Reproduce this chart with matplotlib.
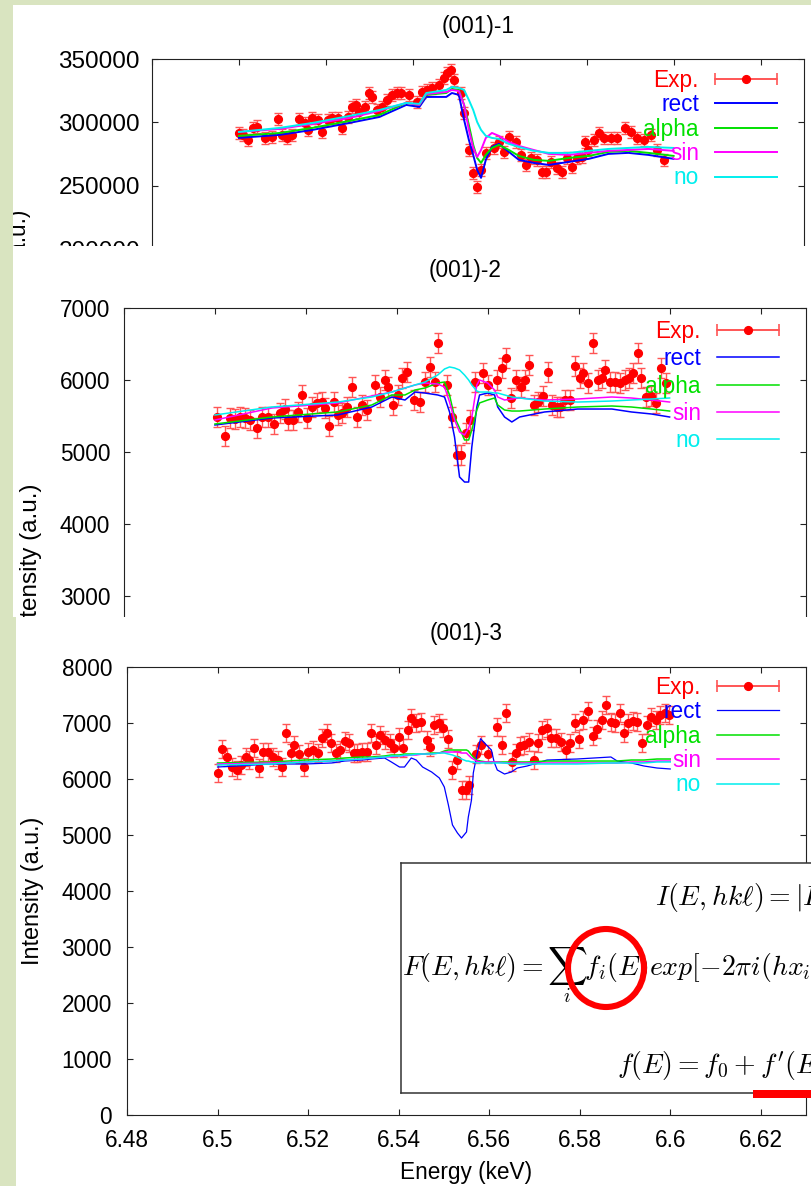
import numpy as np
import matplotlib
matplotlib.use('Agg')
import matplotlib.pyplot as plt
from matplotlib.patches import Rectangle, Ellipse
from matplotlib.lines import Line2D
from matplotlib.collections import LineCollection
from matplotlib.container import ErrorbarContainer
from matplotlib.legend_handler import HandlerErrorbar
from matplotlib.ticker import FuncFormatter
from matplotlib.transforms import Bbox, TransformedBbox

plt.rcParams['font.family'] = ['Liberation Sans', 'DejaVu Sans']
plt.rcParams['mathtext.fontset'] = 'cm'

# ---------------- data (001)-1 ----------------
e1_exp = [6.5000, 6.5009, 6.5020, 6.5032, 6.5041, 6.5059, 6.5075, 6.5089, 6.5100, 6.5110,
          6.5123, 6.5139, 6.5151, 6.5158, 6.5169, 6.5181, 6.5190, 6.5204, 6.5213, 6.5227,
          6.5238, 6.5250, 6.5261, 6.5270, 6.5277, 6.5289, 6.5300, 6.5307, 6.5318, 6.5330,
          6.5341, 6.5353, 6.5364, 6.5373, 6.5392, 6.5410, 6.5422, 6.5433, 6.5444, 6.5461,
          6.5472, 6.5479, 6.5488, 6.5495, 6.5511, 6.5518, 6.5529, 6.5539, 6.5548, 6.5557,
          6.5568, 6.5587, 6.5598, 6.5610, 6.5621, 6.5637, 6.5649, 6.5660, 6.5672, 6.5685,
          6.5697, 6.5706, 6.5717, 6.5731, 6.5743, 6.5754, 6.5766, 6.5777, 6.5789, 6.5796,
          6.5803, 6.5816, 6.5828, 6.5839, 6.5855, 6.5869, 6.5889, 6.5901, 6.5915, 6.5931,
          6.5947, 6.5961, 6.5977]
i1_exp = [291700, 290200, 286200, 295700, 296700, 287800, 288600, 302800, 290200, 287800,
          290200, 302800, 299600, 294100, 303500, 302000, 292500, 302000, 303500, 303500,
          295700, 304300, 312200, 313800, 308300, 312200, 323200, 320100, 309800, 312200,
          317700, 321700, 323200, 323200, 321700, 316100, 324000, 325600, 327200, 329500,
          335000, 339000, 341300, 333500, 323200, 307500, 278300, 260200, 249200, 262600,
          276000, 279900, 284600, 276800, 288600, 284600, 274400, 266500, 272000, 270500,
          261000, 261000, 268900, 264200, 261000, 272000, 265000, 272000, 272800, 284600,
          278300, 286200, 291700, 287800, 287800, 287800, 295700, 292500, 287800, 286200,
          290200, 278300, 270500]
err1 = 5000

e1_fit = [6.5000, 6.5094, 6.5169, 6.5254, 6.5323, 6.5385, 6.5415, 6.5431, 6.5477, 6.5490,
          6.5506, 6.5518, 6.5529, 6.5539, 6.5548, 6.5557, 6.5568, 6.5582, 6.5598, 6.5621,
          6.5644, 6.5678, 6.5713, 6.5759, 6.5805, 6.5850, 6.5896, 6.5942, 6.6000]
rect1 = [287800, 290200, 294100, 299600, 304300, 313800, 312200, 320100, 320100, 323200,
         321700, 302000, 286200, 274400, 262600, 256300, 270500, 280700, 283100, 276800,
         270500, 268100, 266500, 268900, 271300, 275200, 276000, 274400, 271300]
alpha1 = [289400, 291700, 295700, 301200, 305900, 315400, 313800, 321700, 323200, 326400,
          325600, 313800, 298000, 282300, 272000, 268100, 274400, 279900, 282300, 278300,
          273600, 270500, 269700, 272000, 273600, 276800, 277600, 276000, 273600]
sin1 = [292500, 294900, 298800, 303500, 309100, 315400, 313800, 322400, 324000, 325600,
        324800, 313800, 294100, 279900, 272800, 278300, 287800, 291700, 289400, 284600,
        281500, 278300, 275200, 274400, 276000, 277600, 278300, 279100, 277600]
no1 = [292500, 295700, 299600, 305100, 309800, 315400, 314600, 323200, 325600, 328000,
       327200, 325600, 317700, 309800, 300400, 294100, 289400, 287800, 287000, 283100,
       280700, 277600, 276000, 276000, 277600, 279100, 279900, 280700, 279900]

# ---------------- data (001)-2 ----------------
e2_exp = [6.5004, 6.5022, 6.5033, 6.5044, 6.5055, 6.5066, 6.5077, 6.5092, 6.5103, 6.5116,
          6.5130, 6.5143, 6.5154, 6.5160, 6.5171, 6.5182, 6.5191, 6.5202, 6.5213, 6.5224,
          6.5235, 6.5242, 6.5251, 6.5262, 6.5270, 6.5279, 6.5290, 6.5301, 6.5312, 6.5323,
          6.5334, 6.5352, 6.5363, 6.5374, 6.5380, 6.5391, 6.5402, 6.5411, 6.5422, 6.5437,
          6.5451, 6.5462, 6.5473, 6.5484, 6.5490, 6.5510, 6.5521, 6.5532, 6.5541, 6.5552,
          6.5560, 6.5571, 6.5589, 6.5600, 6.5620, 6.5631, 6.5640, 6.5651, 6.5662, 6.5673,
          6.5681, 6.5690, 6.5701, 6.5710, 6.5721, 6.5732, 6.5741, 6.5752, 6.5760, 6.5769,
          6.5780, 6.5791, 6.5802, 6.5809, 6.5820, 6.5831, 6.5842, 6.5851, 6.5859, 6.5868,
          6.5879, 6.5890, 6.5901, 6.5910, 6.5919, 6.5930, 6.5938, 6.5949, 6.5960, 6.5971,
          6.5982, 6.5993]
i2_exp = [5490, 5222, 5472, 5458, 5486, 5472, 5444, 5333, 5486, 5486,
          5389, 5542, 5597, 5444, 5444, 5556, 5792, 5472, 5625, 5681,
          5694, 5611, 5361, 5694, 5514, 5542, 5625, 5903, 5486, 5653,
          5583, 5931, 5764, 6000, 5903, 5653, 5792, 6028, 6111, 5722,
          5694, 5972, 6181, 5972, 6514, 5931, 5486, 4958, 4958, 5264,
          5444, 5972, 6097, 5931, 6000, 6167, 6306, 5750, 6000, 5903,
          6000, 6208, 5653, 5694, 5778, 6111, 5653, 5625, 5625, 5722,
          5722, 6194, 6028, 6097, 5958, 6514, 6000, 6028, 6139, 5972,
          5972, 5958, 6000, 6028, 6097, 6375, 6028, 5764, 5778, 5681,
          6167, 5958]
err2 = 140

e2_fit = [6.5000, 6.5125, 6.5270, 6.5345, 6.5389, 6.5418, 6.5440, 6.5462, 6.5490, 6.5505,
          6.5516, 6.5527, 6.5538, 6.5549, 6.5558, 6.5565, 6.5576, 6.5582, 6.5600, 6.5615,
          6.5622, 6.5637, 6.5653, 6.5670, 6.5725, 6.5798, 6.5873, 6.5916, 6.5960, 6.6000]
rect2 = [5375, 5472, 5514, 5625, 5764, 5722, 5833, 5819, 5792, 5764,
         5556, 5208, 4653, 4583, 4583, 5069, 5625, 5792, 5819, 5792,
         5625, 5486, 5417, 5486, 5556, 5597, 5597, 5556, 5528, 5486]
alpha2 = [5389, 5486, 5556, 5653, 5792, 5792, 5861, 5889, 5958, 5972,
          5792, 5486, 5333, 5167, 5167, 5306, 5583, 5681, 5722, 5750,
          5653, 5583, 5569, 5569, 5597, 5625, 5639, 5625, 5597, 5569]
sin2 = [5444, 5611, 5681, 5778, 5833, 5889, 5931, 5958, 5944, 5903,
        5694, 5444, 5278, 5236, 5333, 5486, 5931, 6000, 5958, 5861,
        5764, 5722, 5736, 5750, 5722, 5736, 5764, 5750, 5722, 5694]
no2 = [5514, 5625, 5694, 5764, 5833, 5889, 5931, 5972, 6069, 6153,
       6181, 6167, 6139, 6069, 6000, 5931, 5847, 5833, 5833, 5819,
       5819, 5792, 5764, 5750, 5708, 5694, 5708, 5722, 5736, 5750]

# ---------------- data (001)-3 ----------------
e3_exp = [6.5001, 6.5009, 6.5021, 6.5032, 6.5043, 6.5051, 6.5062, 6.5069, 6.5080, 6.5091,
          6.5100, 6.5111, 6.5122, 6.5133, 6.5142, 6.5151, 6.5162, 6.5170, 6.5181, 6.5190,
          6.5199, 6.5210, 6.5221, 6.5230, 6.5241, 6.5250, 6.5261, 6.5270, 6.5281, 6.5290,
          6.5301, 6.5309, 6.5320, 6.5331, 6.5340, 6.5351, 6.5360, 6.5369, 6.5380, 6.5389,
          6.5400, 6.5409, 6.5420, 6.5428, 6.5439, 6.5450, 6.5462, 6.5470, 6.5479, 6.5490,
          6.5499, 6.5510, 6.5519, 6.5530, 6.5539, 6.5548, 6.5556, 6.5570, 6.5583, 6.5598,
          6.5618, 6.5629, 6.5638, 6.5651, 6.5660, 6.5669, 6.5678, 6.5689, 6.5700, 6.5708,
          6.5717, 6.5728, 6.5737, 6.5748, 6.5759, 6.5770, 6.5779, 6.5790, 6.5799, 6.5808,
          6.5819, 6.5830, 6.5839, 6.5850, 6.5858, 6.5869, 6.5878, 6.5889, 6.5898, 6.5907,
          6.5918, 6.5927, 6.5938, 6.5949, 6.5958, 6.5969, 6.5978, 6.5989, 6.5997]
i3_exp = [6107, 6536, 6393, 6214, 6161, 6250, 6393, 6339, 6554, 6196,
          6482, 6482, 6393, 6339, 6214, 6821, 6464, 6607, 6446, 6214,
          6482, 6518, 6464, 6732, 6821, 6643, 6464, 6518, 6679, 6643,
          6464, 6464, 6482, 6482, 6821, 6607, 6786, 6696, 6643, 6554,
          6750, 6554, 6875, 7089, 7000, 7018, 6696, 6571, 6964, 7000,
          6911, 6714, 6161, 6339, 5804, 5804, 5893, 6446, 6607, 6446,
          6929, 6607, 7179, 6304, 6464, 6589, 6607, 6661, 6339, 6643,
          6875, 6911, 6732, 6732, 6661, 6518, 6643, 7000, 6714, 7054,
          7214, 6768, 6893, 7054, 7321, 7018, 7000, 7179, 6821, 7000,
          7036, 7018, 6643, 6964, 7107, 7054, 7143, 7179, 7143]
err3 = 160

e3_fit = [6.5000, 6.5120, 6.5193, 6.5252, 6.5281, 6.5318, 6.5340, 6.5369, 6.5384, 6.5402,
          6.5413, 6.5428, 6.5439, 6.5453, 6.5473, 6.5490, 6.5501, 6.5510, 6.5519, 6.5530,
          6.5539, 6.5550, 6.5554, 6.5561, 6.5565, 6.5572, 6.5581, 6.5594, 6.5605, 6.5611,
          6.5618, 6.5634, 6.5649, 6.5662, 6.5684, 6.5728, 6.5794, 6.5869, 6.5883, 6.5914,
          6.5942, 6.5971, 6.6000]
rect3 = [6214, 6268, 6268, 6286, 6321, 6339, 6357, 6375, 6304, 6214,
         6214, 6375, 6339, 6214, 6125, 6018, 5857, 5536, 5179, 5036,
         4946, 5054, 5321, 5625, 6107, 6393, 6720, 6607, 6518, 6304,
         6161, 6089, 6125, 6196, 6232, 6339, 6357, 6393, 6321, 6286,
         6232, 6196, 6179]
alpha3 = [6286, 6304, 6339, 6357, 6375, 6393, 6393, 6411, 6429, 6429,
          6446, 6446, 6446, 6446, 6464, 6464, 6500, 6518, 6518, 6518,
          6518, 6518, 6500, 6429, 6393, 6339, 6321, 6304, 6304, 6304,
          6304, 6304, 6304, 6304, 6304, 6321, 6321, 6321, 6321, 6339,
          6339, 6357, 6357]
sin3 = [6268, 6286, 6304, 6321, 6339, 6357, 6375, 6393, 6393, 6411,
        6411, 6429, 6429, 6446, 6446, 6464, 6482, 6482, 6482, 6482,
        6464, 6464, 6429, 6375, 6357, 6321, 6304, 6304, 6304, 6304,
        6304, 6286, 6286, 6286, 6286, 6286, 6286, 6286, 6286, 6304,
        6304, 6321, 6321]
no3 = [6250, 6268, 6304, 6321, 6339, 6357, 6375, 6393, 6411, 6411,
       6429, 6429, 6446, 6446, 6446, 6464, 6464, 6446, 6429, 6393,
       6357, 6321, 6321, 6304, 6304, 6286, 6286, 6286, 6286, 6286,
       6286, 6286, 6268, 6268, 6268, 6268, 6268, 6286, 6286, 6286,
       6286, 6304, 6304]

xtick_vals = [6.48, 6.50, 6.52, 6.54, 6.56, 6.58, 6.60, 6.62]
yticks1 = [0, 50000, 100000, 150000, 200000, 250000, 300000, 350000]
yticks2 = [0, 1000, 2000, 3000, 4000, 5000, 6000, 7000]
yticks3 = [0, 1000, 2000, 3000, 4000, 5000, 6000, 7000, 8000]
key_names = ['Exp.', 'rect', 'alpha', 'sin', 'no']
key_colors = ['#ff0000', '#0000ff', '#00e000', '#ff00ff', '#00eeee']
ERR_COLOR = '#ff5555'
BG_GREEN = '#d9e4c0'

W, H = 811, 1186


def fig_box(left, top, right, bottom):
    return [left / W, 1 - bottom / H, (right - left) / W, (bottom - top) / H]


def fig_pt(x, y):
    return (x / W, 1 - y / H)


def fig_clip(left, top, right, bottom):
    return TransformedBbox(Bbox.from_extents(left / W, 1 - bottom / H, right / W, 1 - top / H),
                           fig.transFigure)


fig = plt.figure(figsize=(W / 100, H / 100), dpi=100)
fig.patch.set_facecolor(BG_GREEN)

# white screenshot backgrounds, stacked
screens = [(13, 5, 246, 0), (13, 246, 617, 2), (16, 617, 1190, 4)]
for (l, t, b, z) in screens:
    fig.add_artist(Rectangle(fig_pt(l, b), 1.0, (b - t) / H, transform=fig.transFigure,
                             facecolor='white', edgecolor='none', zorder=z))


def draw_panel(ax, e_exp, i_exp, err, e_fit, fits, ylim, yticks, title, ylabel_x,
               tick_size, label_size, ypad, key_anchor, key_space, fit_lw, screen):
    ax.errorbar(e_exp, i_exp, yerr=err, fmt='o', color='red', ecolor=ERR_COLOR,
                ms=5.6, elinewidth=1.0, capsize=3, capthick=1.0, zorder=2)
    lines = []
    for vals, c, lw in zip(fits, key_colors[1:], fit_lw):
        ln, = ax.plot(e_fit, vals, color=c, lw=lw, zorder=3)
        lines.append(ln)
    ax.set_xlim(6.48, 6.63)
    ax.set_ylim(*ylim)
    ax.set_xticks(xtick_vals)
    ax.set_yticks(yticks)
    ax.xaxis.set_major_formatter(FuncFormatter(lambda v, p: '%g' % round(v, 2)))
    ax.yaxis.set_major_formatter(FuncFormatter(lambda v, p: '%d' % v))
    ax.tick_params(direction='in', top=True, right=True, length=4.5, width=0.8,
                   labelsize=tick_size, colors='#222222')
    ax.tick_params(axis='y', pad=ypad, labelcolor='black')
    ax.tick_params(axis='x', pad=10, labelcolor='black')
    for s in ax.spines.values():
        s.set_linewidth(0.8)
        s.set_color('#222222')
    ax.set_title(title, fontsize=16.3, y=1.0738, va='center', pad=0)
    lab = ax.set_ylabel('Intensity (a.u.)', fontsize=label_size, va='center')
    ax.yaxis.set_label_coords(ylabel_x, 0.5)
    l, t, b, _ = screen
    lab.set_clip_box(fig_clip(l, t, W, b))
    lab.set_clip_on(True)

    exp_line = Line2D([], [], color=ERR_COLOR, marker='o', ms=5.6, mfc='red', mec='red', lw=1.2)
    cap = Line2D([], [], color=ERR_COLOR, marker='|', ms=8, mew=1.2, ls='none')
    bars = LineCollection([], colors=ERR_COLOR, linewidths=1.2)
    exp_proxy = ErrorbarContainer((exp_line, (cap,), (bars,)), has_xerr=True, has_yerr=False)
    leg = ax.legend([exp_proxy] + lines, key_names, loc='upper right',
                    bbox_to_anchor=fig_pt(*key_anchor), bbox_transform=fig.transFigure,
                    frameon=False, markerfirst=False, fontsize=16.3, handlelength=2.75,
                    handletextpad=0.7, labelspacing=key_space, borderpad=0, borderaxespad=0,
                    handler_map={exp_proxy: HandlerErrorbar(xerr_size=1.375)})
    for txt, c in zip(leg.get_texts(), key_colors):
        txt.set_color(c)
    return ax


ax1 = fig.add_axes(fig_box(152, 59, 804, 503))
ax1.set_zorder(1)
draw_panel(ax1, e1_exp, i1_exp, err1, e1_fit, [rect1, alpha1, sin1, no1], (0, 350000),
           yticks1, '(001)-1', (20 - 152) / 652, 17.5, 16.3, 8.6, (777, 69), 0.06,
           [1.4, 1.4, 1.4, 1.4], screens[0])

ax2 = fig.add_axes(fig_box(124, 308, 806, 812))
ax2.set_zorder(3)
draw_panel(ax2, e2_exp, i2_exp, err2, e2_fit, [rect2, alpha2, sin2, no2], (0, 7000),
           yticks2, '(001)-2', (31 - 124) / 682, 16.3, 17.5, 10, (779, 320), 0.19,
           [1.1, 1.1, 1.1, 1.1], screens[1])

ax3 = fig.add_axes(fig_box(127, 667, 806, 1115))
ax3.set_zorder(5)
draw_panel(ax3, e3_exp, i3_exp, err3, e3_fit, [rect3, alpha3, sin3, no3], (0, 8000),
           yticks3, '(001)-3', (33 - 127) / 679, 16.3, 16.8, 10.8, (779, 676), 0.06,
           [0.9, 1.1, 1.1, 1.1], screens[2])
ax3.set_xlabel('Energy (keV)', fontsize=16.3, va='center')
ax3.xaxis.set_label_coords(0.5, (1115 - 1172) / 448)

# pasted formula box
axf = fig.add_axes(fig_box(401, 863, 840, 1093))
axf.set_zorder(6)
axf.set_xticks([])
axf.set_yticks([])
for s in axf.spines.values():
    s.set_linewidth(1.1)
    s.set_color('#333333')

formula_size = 20
axf.text(*fig_pt(655, 906), r'$I(E,hk\ell)=|F(E,hk\ell)|^2$', transform=fig.transFigure,
         fontsize=formula_size, ha='left', va='baseline')
axf.text(*fig_pt(402, 975), r'$F(E,hk\ell)=\sum_i f_i(E)exp[-2\pi i(hx_i+ky_i+\ell z_i)]$',
         transform=fig.transFigure, fontsize=formula_size, ha='left', va='baseline')
axf.text(*fig_pt(617, 1073), r'$f(E)=f_0+f^{\prime}(E)+if^{\prime\prime}(E)$',
         transform=fig.transFigure, fontsize=formula_size, ha='left', va='baseline')

fig.add_artist(Ellipse(fig_pt(606, 968), 76 / W, 78 / H, transform=fig.transFigure,
                       fill=False, edgecolor='#ff0000', lw=4.4, zorder=8))
fig.add_artist(Rectangle(fig_pt(753, 1097.5), 0.2, 7.5 / H, transform=fig.transFigure,
                         facecolor='#ff0000', edgecolor='none', zorder=8))

fig.savefig('out.png', dpi=100, facecolor=fig.get_facecolor())
